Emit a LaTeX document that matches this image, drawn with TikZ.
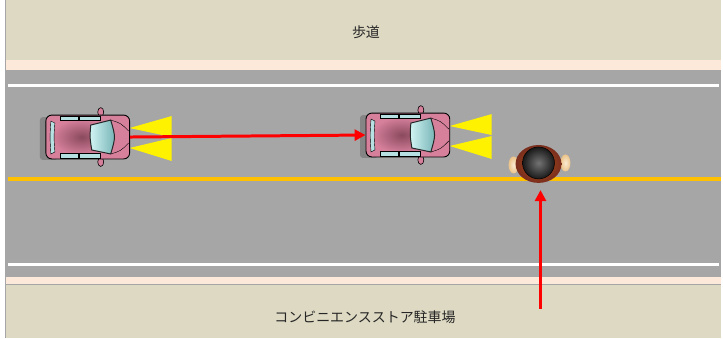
\documentclass[tikz,border=0pt]{standalone}
\usepackage{fontspec}
\usepackage{xcolor}
\usepackage{tikz}
\usetikzlibrary{arrows.meta,shapes.geometric}
\newfontfamily\jpfont{Noto Sans CJK JP}

\definecolor{walkbeige}{HTML}{DDD9C3}
\definecolor{curbpink}{HTML}{FDE9D9}
\definecolor{asphalt}{HTML}{A6A6A6}
\definecolor{centerline}{HTML}{FFC000}
\definecolor{carpink}{HTML}{D6809C}
\definecolor{carshade}{HTML}{8A4A5E}
\definecolor{glass}{HTML}{D2F4F4}
\definecolor{glassdark}{HTML}{74B2B4}
\definecolor{skin}{HTML}{F3CF96}
\definecolor{coat}{HTML}{7A2E1E}

\begin{document}
\begin{tikzpicture}[x=1pt, y=-1pt,
    signtext/.style={font=\jpfont\fontsize{14}{16}\selectfont, text=black!85},
    arrow/.style={-{Triangle[length=11pt,width=11pt]}, line width=3pt, red},
    car/.pic={
        % headlight beams
        \fill[yellow] (42,-9) -- (84,-21) -- (84,0) -- cycle;
        \fill[yellow] (42,11) -- (84,1) -- (84,24) -- cycle;
        % shadow and mirrors
        \fill[black!48, rounded corners=3pt] (-48,-20) rectangle (-30,23);
        \draw[fill=carpink, line width=0.6pt] (13,-25) ellipse (3 and 4.5);
        \draw[fill=carpink, line width=0.6pt] (13,25) ellipse (3 and 4.5);
        % body
        \node[draw, line width=0.9pt, fill=carpink, rounded corners=6pt,
              minimum width=84pt, minimum height=44pt, inner sep=0pt] (-body) at (0,0) {};
        \shade[inner color=carshade, outer color=carpink] (-36,-18) rectangle (24,18);
        % windows
        \draw[fill=glass!70!glassdark, line width=0.4pt] (-37,-16) .. controls (-38,0) .. (-37,17)
            -- (-33,15) .. controls (-34,0) .. (-33,-14) -- cycle;
        \draw[fill=glass!70!glassdark, line width=0.4pt] (-28,-21) rectangle (-10,-16.5);
        \draw[fill=glass!70!glassdark, line width=0.4pt] (-9,-21) rectangle (12,-16.5);
        \draw[fill=glass!70!glassdark, line width=0.4pt] (-28,16.5) rectangle (-10,21);
        \draw[fill=glass!70!glassdark, line width=0.4pt] (-9,16.5) rectangle (12,21);
        \shade[left color=glass, right color=glassdark, draw=black!85, line width=1pt]
            (3,-12) -- (23,-17) .. controls (28,0) .. (23,17) -- (4,13) .. controls (2,0) .. cycle;
        % hood
        \draw[line width=0.4pt] (23,-17) .. controls (33,-14) .. (41,-6);
        \draw[line width=0.4pt] (23,17) .. controls (33,14) .. (41,6);
    },
    walker/.pic={
        % hands
        \shade[inner color=skin!40!white, outer color=skin!85!brown] (-25,1) ellipse (5 and 8.5);
        \shade[inner color=skin!40!white, outer color=skin!85!brown] (27,-1) ellipse (5 and 8.5);
        % shoulders and head
        \node[ellipse, shade, inner color=coat!60!orange, outer color=coat,
              minimum width=46pt, minimum height=38pt, inner sep=0pt] (-body) at (0,0) {};
        \shade[inner color=black!55, outer color=black!90, draw=black, line width=0.5pt]
            (0,-1) circle (16);
    }
]

% Street
\fill[walkbeige] (5,0) rectangle (723,60);
\fill[curbpink] (5,60) rectangle (723,70);
\fill[asphalt] (5,70) rectangle (723,277);
\fill[curbpink] (5,277) rectangle (723,285);
\fill[walkbeige] (5,285) rectangle (723,339);
\draw[black!35, line width=0.8pt] (5,285) -- (723,285);
\draw[black!35, line width=0.8pt] (5,0) -- (5,339);

% Lane markings
\draw[white, line width=3pt] (8,85) -- (721,85);
\draw[white, line width=3pt] (8,265) -- (721,265);
\draw[centerline, line width=4pt] (8,179) -- (723,179);

% Labels
\node[signtext] (walk) at (367,32) {歩道};
\node[signtext] (store) at (366,318) {コンビニエンスストア駐車場};

% Cars and pedestrian
\pic (car1) at (88,137) {car};
\pic (car2) at (409,135) {car};
\pic (man) at (540,164) {walker};
\coordinate (lot) at (542,309);

% Arrows
\draw[arrow] (car1-body.east) -- (car2-body.west);
\draw[arrow, shorten >=7pt] (lot) -- (lot |- man-body.south);

\useasboundingbox (0,0) rectangle (723,339);
\end{tikzpicture}
\end{document}
